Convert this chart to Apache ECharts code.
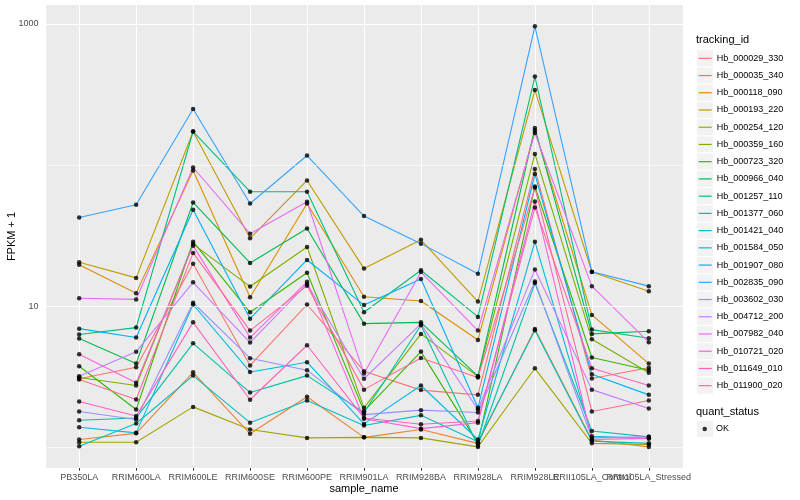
<!DOCTYPE html>
<html><head><meta charset="utf-8">
<script src="https://cdn.jsdelivr.net/npm/echarts@6/dist/echarts.min.js"></script>
<style>html,body{margin:0;padding:0;background:#fff}#c{width:800px;height:500px}</style>
</head><body><div id="c"></div>
<script>
const categories = ['PB350LA','RRIM600LA','RRIM600LE','RRIM600SE','RRIM600PE','RRIM901LA','RRIM928BA','RRIM928LA','RRIM928LE','RRII105LA_Control','RRII105LA_Stressed'];
const trackingIds = ['Hb_000029_330','Hb_000035_340','Hb_000118_090','Hb_000193_220','Hb_000254_120','Hb_000359_160','Hb_000723_320','Hb_000966_040','Hb_001257_110','Hb_001377_060','Hb_001421_040','Hb_001584_050','Hb_001907_080','Hb_002835_090','Hb_003602_030','Hb_004712_200','Hb_007982_040','Hb_010721_020','Hb_011649_010','Hb_011900_020'];
const lineColors = ['#F8766D','#EA8331','#D89000','#C09B00','#A3A500','#7CAE00','#39B600','#00BB4E','#00BF7D','#00C1A3','#00BFC4','#00BAE0','#00B0F6','#35A2FF','#9590FF','#C77CFF','#E76BF3','#FA62DB','#FF62BC','#FF6C91'];

// FPKM + 1 per sample (order of categories)
const hb_000029_330 = [3.07, 3.70, 20.0, 3.81, 10.3, 3.47, 2.55, 2.36, 93.8, 3.08, 3.67];
const hb_000035_340 = [1.14, 1.26, 3.41, 1.25, 2.29, 1.18, 1.34, 1.07, 6.92, 1.13, 1.01];
const hb_000118_090 = [19.7, 12.4, 91.6, 11.6, 53.5, 11.7, 10.9, 5.78, 176, 8.69, 3.93];
const hb_000193_220 = [20.5, 15.9, 173, 30.3, 77.9, 18.5, 29.6, 10.8, 340, 17.5, 12.8];
const hb_000254_120 = [1.09, 1.09, 1.94, 1.34, 1.17, 1.18, 1.17, 1.01, 3.64, 1.07, 1.05];
const hb_000359_160 = [3.13, 2.75, 27.6, 13.8, 26.3, 1.91, 6.38, 3.18, 120, 5.84, 3.38];
const hb_000723_320 = [3.76, 1.86, 28.7, 9.07, 17.3, 1.81, 4.78, 1.07, 70.6, 4.34, 3.53];
const hb_000966_040 = [5.91, 3.93, 54.4, 20.3, 35.6, 7.54, 7.70, 3.20, 183, 6.38, 6.66];
const hb_001257_110 = [6.31, 7.07, 173, 64.8, 64.8, 9.07, 18.0, 8.41, 424, 6.84, 5.94];
const hb_001377_060 = [1.56, 1.62, 5.47, 2.45, 3.23, 1.77, 7.34, 1.03, 14.6, 1.31, 1.19];
const hb_001421_040 = [1.02, 1.48, 3.23, 1.50, 2.15, 1.43, 1.69, 1.10, 6.77, 1.11, 1.07];
const hb_001584_050 = [1.39, 1.27, 10.3, 3.43, 4.02, 1.47, 2.75, 1.14, 28.7, 1.20, 1.16];
const hb_001907_080 = [6.95, 6.01, 48.3, 8.18, 21.3, 10.2, 15.6, 1.91, 86.4, 3.30, 2.36];
const hb_002835_090 = [42.6, 52.4, 250, 53.5, 117, 43.6, 27.8, 17.0, 963, 17.6, 13.9];
const hb_003602_030 = [1.80, 1.58, 10.6, 4.29, 3.53, 1.71, 1.84, 1.77, 15.0, 1.17, 1.19];
const hb_004712_200 = [3.20, 4.76, 14.8, 5.54, 14.4, 3.07, 7.51, 1.86, 18.2, 2.57, 1.89];
const hb_007982_040 = [11.4, 11.2, 96.2, 32.7, 55.0, 3.34, 17.5, 6.73, 169, 13.9, 5.56];
const hb_010721_020 = [4.57, 2.87, 26.9, 6.01, 14.9, 1.60, 1.36, 1.50, 55.3, 1.14, 1.16];
const hb_011649_010 = [2.12, 1.67, 7.70, 2.18, 5.30, 1.62, 1.46, 1.54, 50.2, 3.64, 2.75];
const hb_011900_020 = [3.03, 2.19, 23.9, 6.73, 14.0, 2.57, 4.31, 3.13, 69.1, 1.80, 2.15];

const seriesValues = [hb_000029_330, hb_000035_340, hb_000118_090, hb_000193_220, hb_000254_120, hb_000359_160, hb_000723_320, hb_000966_040, hb_001257_110, hb_001377_060, hb_001421_040, hb_001584_050, hb_001907_080, hb_002835_090, hb_003602_030, hb_004712_200, hb_007982_040, hb_010721_020, hb_011649_010, hb_011900_020];

const yLabelBreaks = [10, 1000];
const yMajorBreaks = [10, 1000];
const yMinorBreaks = [1, 100];
const quantStatus = ['OK'];

const FONT = 'Liberation Sans, Arial, Helvetica, sans-serif';
const chart = echarts.init(document.getElementById('c'), null, {renderer: 'canvas'});

const lineSeries = trackingIds.map((name, k) => ({
  name: name,
  type: 'line',
  data: seriesValues[k].map((v, i) => [i, v]),
  showSymbol: false,
  symbol: 'none',
  color: lineColors[k],
  lineStyle: {width: 1.1, color: lineColors[k]},
  z: 2,
  silent: true
}));

const pointData = [];
seriesValues.forEach(arr => arr.forEach((v, i) => pointData.push([i, v])));

const gridSeries = {
  name: '__grid',
  type: 'line',
  data: [],
  silent: true,
  z: 1,
  markLine: {
    silent: true,
    symbol: 'none',
    label: {show: false},
    animation: false,
    data: yMinorBreaks.map(v => ({yAxis: v, lineStyle: {color: '#ffffff', width: 0.6, type: 'solid'}}))
      .concat(yMajorBreaks.map(v => ({yAxis: v, lineStyle: {color: '#ffffff', width: 1.1, type: 'solid'}})))
  }
};

const legendTop = 49.7, rowH = 17.23;
const keyRects = [];
for (let k = 0; k < trackingIds.length; k++) {
  keyRects.push({type: 'rect', left: 697, top: legendTop + rowH * k + 0.6, shape: {width: 16, height: rowH - 1.2}, style: {fill: '#F2F2F2'}, z: 0, silent: true});
}
keyRects.push({type: 'rect', left: 697, top: 420.4 + 0.6, shape: {width: 16, height: rowH - 1.2}, style: {fill: '#F2F2F2'}, z: 0, silent: true});

chart.setOption({
  animation: false,
  backgroundColor: '#ffffff',
  textStyle: {fontFamily: FONT},
  title: [
    {text: 'tracking_id', left: 696, top: 34.5, padding: 0, textStyle: {fontSize: 11, fontWeight: 'normal', color: '#000', fontFamily: FONT}},
    {text: 'quant_status', left: 696, top: 406.5, padding: 0, textStyle: {fontSize: 11, fontWeight: 'normal', color: '#000', fontFamily: FONT}}
  ],
  grid: {left: 45, right: 117, top: 5, bottom: 32, show: true, backgroundColor: '#EBEBEB', borderWidth: 0, containLabel: false, outerBoundsMode: 'none'},
  xAxis: {
    type: 'value', min: -0.6, max: 10.6, splitNumber: 11,
    name: 'sample_name', nameLocation: 'middle', nameGap: 15, nameMoveOverlap: false,
    nameTextStyle: {fontSize: 11, color: '#000', fontFamily: FONT, verticalAlign: 'top'},
    axisLine: {show: false},
    axisTick: {show: true, length: 2.7, lineStyle: {color: '#333333', width: 1}},
    axisLabel: {
      margin: 5, fontSize: 9, color: '#4D4D4D', fontFamily: FONT, hideOverlap: false,
      showMinLabel: false, showMaxLabel: false,
      formatter: v => { const i = Math.round(v); return (Math.abs(v - i) < 1e-6 && categories[i]) ? categories[i] : ''; }
    },
    splitLine: {show: true, lineStyle: {color: '#ffffff', width: 1.1}}
  },
  yAxis: {
    type: 'log', logBase: 10, min: 0.716, max: 1362,
    name: 'FPKM + 1', nameLocation: 'middle', nameGap: 27.5, nameRotate: 90, nameMoveOverlap: false,
    nameTextStyle: {fontSize: 11, color: '#000', fontFamily: FONT},
    axisLine: {show: false},
    axisTick: {show: false},
    axisLabel: {
      margin: 6.5, fontSize: 9, color: '#4D4D4D', fontFamily: FONT,
      showMinLabel: false, showMaxLabel: false,
      formatter: v => { const e = Math.log10(v); const r = Math.round(e); if (Math.abs(e - r) < 1e-6 && yLabelBreaks.indexOf(Math.pow(10, r)) >= 0) return String(Math.pow(10, r)); return ''; }
    },
    splitLine: {show: false}
  },
  legend: [
    {
      data: trackingIds, orient: 'vertical', left: 698.7, top: legendTop, padding: 0,
      itemWidth: 13, itemHeight: 1.2, itemGap: 0, icon: 'rect', selectedMode: false,
      textStyle: {fontSize: 9, color: '#000', fontFamily: FONT, lineHeight: rowH}
    },
    {
      data: quantStatus, orient: 'vertical', left: 702.5, top: 420.4, padding: 0,
      itemWidth: 4.5, itemHeight: 4.5, itemGap: 0, icon: 'circle', selectedMode: false,
      textStyle: {fontSize: 9, color: '#000', fontFamily: FONT, lineHeight: rowH, padding: [0, 0, 0, 4]}
    }
  ],
  graphic: {elements: keyRects},
  series: [gridSeries].concat(lineSeries).concat([{
    name: 'OK', type: 'scatter', data: pointData, symbol: 'circle', symbolSize: 4.5,
    itemStyle: {color: '#000000'}, z: 5, silent: true
  }])
});
</script></body></html>
